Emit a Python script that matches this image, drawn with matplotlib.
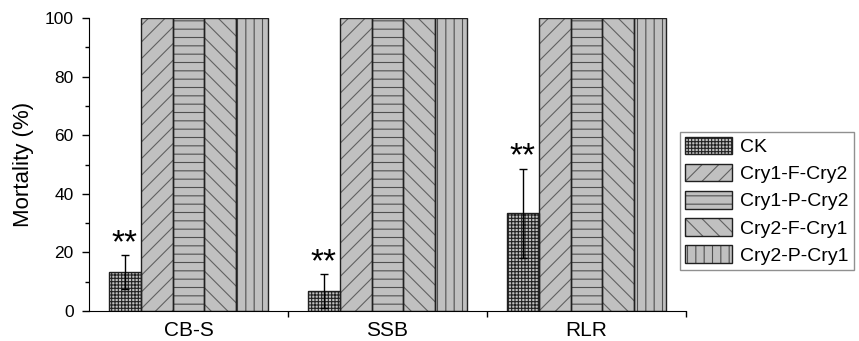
import matplotlib.pyplot as plt
import numpy as np
from matplotlib.patches import Patch
from matplotlib.ticker import MultipleLocator, FixedLocator

plt.rcParams['font.family'] = ['Liberation Sans', 'DejaVu Sans']
plt.rcParams['hatch.linewidth'] = 0.8

# Datos
groups = ['CB-S', 'SSB', 'RLR']
series = ['CK', 'Cry1-F-Cry2', 'Cry1-P-Cry2', 'Cry2-F-Cry1', 'Cry2-P-Cry1']
values = [
    [13.3, 6.7, 33.3],     # CK
    [100, 100, 100],       # Cry1-F-Cry2
    [100, 100, 100],       # Cry1-P-Cry2
    [100, 100, 100],       # Cry2-F-Cry1
    [100, 100, 100],       # Cry2-P-Cry1
]
errors = [
    [5.9, 5.8, 15.3],
    [0, 0, 0],
    [0, 0, 0],
    [0, 0, 0],
    [0, 0, 0],
]
signif = ['**', '**', '**']

hatches = ['+++++', '//', '--', '\\\\', '||']
hatch_colors = ['#222222', '#606060', '#505050', '#606060', '#505050']
fill = '#c0c0c0'

fig = plt.figure(figsize=(8.59, 3.41), dpi=100)
ax = fig.add_axes([89 / 859, 30 / 341, 597 / 859, 293 / 341])

x = np.arange(len(groups))
width = 0.16
handles = []
for i, name in enumerate(series):
    pos = x + (i - 2) * width
    ax.bar(pos, values[i], width, color=fill, edgecolor=hatch_colors[i],
           hatch=hatches[i], linewidth=0, zorder=2)
    ax.bar(pos, values[i], width, color='none', edgecolor='#202020',
           linewidth=1.0, zorder=3)
    if any(errors[i]):
        ax.errorbar(pos, values[i], yerr=errors[i], fmt='none', ecolor='black',
                    elinewidth=1.0, capsize=3, capthick=1.0, zorder=4)
    h1 = Patch(facecolor=fill, edgecolor=hatch_colors[i], hatch=hatches[i], linewidth=0)
    h2 = Patch(facecolor='none', edgecolor='#202020', linewidth=1.0)
    handles.append((h1, h2))

# asteriscos
for j in range(len(groups)):
    ax.text(x[j] - 2 * width, values[0][j] + errors[0][j] + 1.0, signif[j],
            ha='center', va='baseline', fontsize=24)

ax.set_xlim(-0.5, 2.5)
ax.set_ylim(0, 100)
ax.set_xticks(x)
ax.set_xticklabels(groups, fontsize=15)
ax.xaxis.set_minor_locator(FixedLocator([0.5, 1.5, 2.5]))
ax.tick_params(axis='x', which='major', length=0, pad=7)
ax.tick_params(axis='x', which='minor', length=4, width=1, direction='out')
ax.yaxis.set_major_locator(MultipleLocator(20))
ax.yaxis.set_minor_locator(MultipleLocator(10))
ax.tick_params(axis='y', which='major', length=5, width=1, direction='out',
               labelsize=12.5, pad=6)
ax.tick_params(axis='y', which='minor', length=3, width=1, direction='out')
ax.set_ylabel('Mortality (%)', fontsize=16, labelpad=8)
ax.spines['top'].set_visible(False)
ax.spines['right'].set_visible(False)

leg = fig.legend(handles, series, loc='upper left',
                 bbox_to_anchor=(680 / 859, 1 - 132 / 341), fontsize=14,
                 handlelength=2.4, handleheight=1.0, labelspacing=0.4,
                 handletextpad=0.45, borderpad=0.25, borderaxespad=0,
                 fancybox=False, framealpha=1, edgecolor='#909090')

fig.savefig('out.png', dpi=100)
